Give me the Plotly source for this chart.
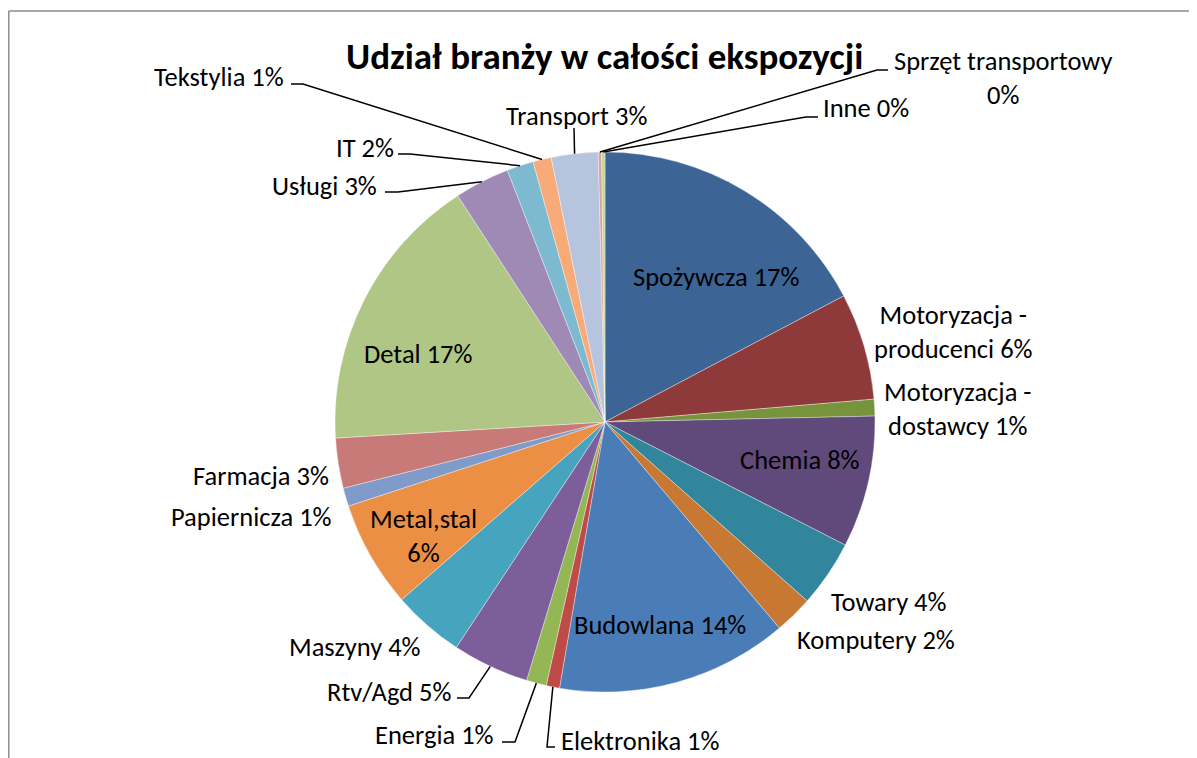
import math
import plotly.graph_objects as go

# ---- data ----
categories = ["Spożywcza", "Motoryzacja - producenci", "Motoryzacja - dostawcy", "Chemia",
              "Towary", "Komputery", "Budowlana", "Elektronika", "Energia", "Rtv/Agd",
              "Maszyny", "Metal,stal", "Papiernicza", "Farmacja", "Detal", "Usługi", "IT",
              "Tekstylia", "Transport", "Sprzęt transportowy", "Inne"]
values = [17.3, 6.4, 1.0, 7.9, 4.0, 2.3, 13.9, 0.8, 1.2, 4.6, 4.3, 6.4, 1.1, 3.0,
          16.8, 3.3, 1.6, 1.1, 2.8, 0.2, 0.2]
colors = ["#3C6494", "#8E3A3A", "#77933C", "#604A7B", "#31859C", "#C77832", "#4A7DB8",
          "#BE4B48", "#94B655", "#7B5E9A", "#47A4BE", "#EB8F45", "#7F9BC9", "#C87A78",
          "#AFC685", "#9F8AB5", "#7DBAD0", "#F8AB79", "#B7C4DD", "#D9A3A1", "#C4D79B"]
title = "Udział branży w całości ekspozycji"

W, H = 1197, 758
OFF = 8  # page body margin
CX, CY, R = 605, 422, 270
FONT = "Carlito, Calibri, Lato, sans-serif"
FS = 26.5

def px(x):
    return (x - OFF) / W

def py(y):
    return 1 - (y - OFF) / H

fig = go.Figure(go.Pie(
    labels=categories, values=values, sort=False, direction="clockwise", rotation=0,
    marker=dict(colors=colors, line=dict(color="rgba(255,255,255,0.6)", width=0.6)),
    textinfo="none", hoverinfo="label+percent", showlegend=False,
    domain=dict(x=[px(CX - R), px(CX + R)], y=[py(CY + R), py(CY - R)]),
))

total = sum(values)
pct = {c: round(v / total * 100) for c, v in zip(categories, values)}
wrap = {"Motoryzacja - producenci": "Motoryzacja -<br>producenci",
        "Motoryzacja - dostawcy": "Motoryzacja -<br>dostawcy",
        "Metal,stal": "Metal,stal<br>",
        "Sprzęt transportowy": "Sprzęt transportowy<br>"}

def label_text(c):
    name = wrap.get(c, c)
    sep = "" if name.endswith("<br>") else " "
    return f"{name}{sep}{pct[c]}%"

# label placement: (x, y, xanchor, align)
place = {
    "Spożywcza": (716, 277, "center", "center"),
    "Motoryzacja - producenci": (953, 332, "center", "center"),
    "Motoryzacja - dostawcy": (957, 409, "center", "center"),
    "Chemia": (800, 460, "center", "center"),
    "Towary": (889, 602, "center", "center"),
    "Komputery": (876, 640, "center", "center"),
    "Budowlana": (660, 625, "center", "center"),
    "Elektronika": (559, 741, "left", "left"),
    "Energia": (496, 735, "right", "right"),
    "Rtv/Agd": (453, 692, "right", "right"),
    "Maszyny": (287, 647, "left", "left"),
    "Metal,stal": (423, 536, "center", "center"),
    "Papiernicza": (334, 517, "right", "right"),
    "Farmacja": (331, 476, "right", "right"),
    "Detal": (418, 354, "center", "center"),
    "Usługi": (379, 186, "right", "right"),
    "IT": (396, 148, "right", "right"),
    "Tekstylia": (286, 77, "right", "right"),
    "Transport": (576, 116, "center", "center"),
    "Sprzęt transportowy": (1003, 78, "center", "center"),
    "Inne": (821, 108, "left", "left"),
}

annotations = []
for c in categories:
    x, y, xa, al = place[c]
    annotations.append(dict(text=label_text(c), x=px(x), y=py(y), xref="paper", yref="paper",
                            xanchor=xa, yanchor="middle", align=al, showarrow=False,
                            font=dict(family=FONT, size=FS, color="#000000")))

annotations.append(dict(text=f"<b>{title}</b>", x=px(604), y=py(57), xref="paper", yref="paper",
                        xanchor="center", yanchor="middle", showarrow=False,
                        font=dict(family=FONT, size=37, color="#000000")))

# leader line elbows (pixels); the end on the pie edge is computed from the data
elbows = {
    "Tekstylia": [(291, 84), (303, 84)],
    "IT": [(398, 154), (410, 154)],
    "Usługi": [(385, 192), (398, 192)],
    "Transport": [(574, 128)],
    "Sprzęt transportowy": [(888, 70), (877, 70)],
    "Inne": [(818, 117), (806, 117)],
    "Rtv/Agd": [(457, 698), (469, 698)],
    "Energia": [(502, 742), (515, 742)],
    "Elektronika": [(555, 747), (547, 747)],
}

shapes = []
cum = 0.0
for c, v in zip(categories, values):
    mid = (cum + v / 2) / total * 2 * math.pi
    cum += v
    if c not in elbows:
        continue
    ex = CX + R * math.sin(mid)
    ey = CY - R * math.cos(mid)
    pts = elbows[c] + [(ex, ey)]
    path = "M " + " L ".join(f"{px(a):.5f},{py(b):.5f}" for a, b in pts)
    shapes.append(dict(type="path", path=path, xref="paper", yref="paper",
                       line=dict(color="#000000", width=1.5)))

# chart frame (left and top edges visible)
shapes.append(dict(type="line", xref="paper", yref="paper", x0=px(8.8), x1=px(8.8), y0=py(11), y1=py(H + 20),
                   line=dict(color="#8C8C8C", width=1.5)))
shapes.append(dict(type="line", xref="paper", yref="paper", x0=px(8.8), x1=px(W + 20), y0=py(11), y1=py(11),
                   line=dict(color="#8C8C8C", width=1.5)))

fig.update_layout(width=W, height=H, margin=dict(l=0, r=0, t=0, b=0),
                  paper_bgcolor="white", plot_bgcolor="white",
                  annotations=annotations, shapes=shapes)

fig.write_html("out.html")
